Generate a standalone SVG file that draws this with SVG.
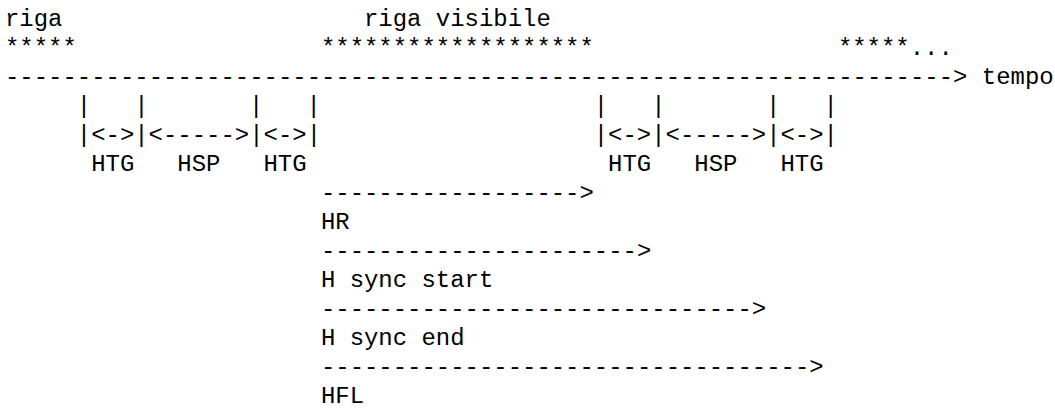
<svg xmlns="http://www.w3.org/2000/svg" width="1055" height="410" viewBox="0 0 1055 410">
<style>
text{font-family:"Liberation Mono","Courier New",monospace;font-size:23.94px;fill:#000;white-space:pre}
</style>
<rect width="1055" height="410" fill="#fff"/>
<g id="labels-top">
<text x="5" y="26">riga</text>
<text x="364" y="26">riga visibile</text>
</g>
<g id="stars">
<text x="5" y="55">*****</text>
<text x="320.92" y="55">*******************</text>
<text x="837.88" y="55">*****...</text>
</g>
<g id="timeline">
<text x="5" y="84">------------------------------------------------------------------&gt; tempo</text>
</g>
<g id="left-intervals">
<text x="76.8" y="113">|</text>
<text x="134.24" y="113">|</text>
<text x="249.12" y="113">|</text>
<text x="306.56" y="113">|</text>
<text x="76.8" y="142">|&lt;-&gt;|&lt;-----&gt;|&lt;-&gt;|</text>
<text x="91.16" y="171">HTG</text>
<text x="177.32" y="171">HSP</text>
<text x="263.48" y="171">HTG</text>
</g>
<g id="right-intervals">
<text x="593.76" y="113">|</text>
<text x="651.2" y="113">|</text>
<text x="766.08" y="113">|</text>
<text x="823.52" y="113">|</text>
<text x="593.76" y="142">|&lt;-&gt;|&lt;-----&gt;|&lt;-&gt;|</text>
<text x="608.12" y="171">HTG</text>
<text x="694.28" y="171">HSP</text>
<text x="780.44" y="171">HTG</text>
</g>
<g id="connectors">
<text x="320.92" y="200">------------------&gt;</text>
<text x="320.92" y="258">----------------------&gt;</text>
<text x="320.92" y="316">------------------------------&gt;</text>
<text x="320.92" y="374">----------------------------------&gt;</text>
</g>
<g id="hr"><text x="320.92" y="229">HR</text></g>
<g id="hsync-start"><text x="320.92" y="287">H sync start</text></g>
<g id="hsync-end"><text x="320.92" y="345">H sync end</text></g>
<g id="hfl"><text x="320.92" y="403">HFL</text></g>
</svg>
